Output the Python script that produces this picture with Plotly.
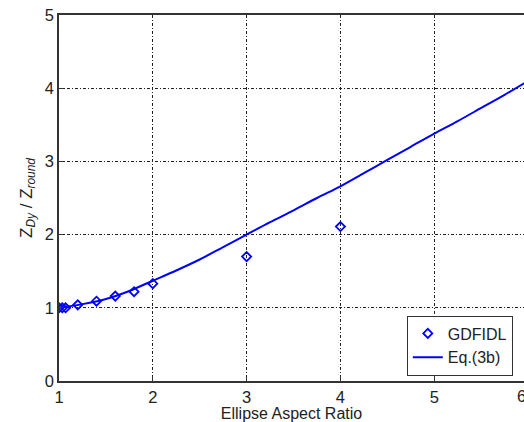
import plotly.graph_objects as go

# GDFIDL simulation results
gdfidl_ratio = [1.0, 1.035, 1.07, 1.2, 1.4, 1.6, 1.8, 2.0, 3.0, 4.0]
gdfidl_z = [1.0, 1.0, 1.0, 1.04, 1.09, 1.16, 1.22, 1.33, 1.70, 2.11]

# Eq.(3b) curve
eq_ratio = [1.0, 1.25, 1.5, 1.75, 2.0, 2.25, 2.5, 2.75, 3.0, 3.25, 3.5, 3.75,
            4.0, 4.25, 4.5, 4.75, 5.0, 5.25, 5.5, 5.75, 6.0]
eq_z = [1.0, 1.05, 1.12, 1.23, 1.37, 1.51, 1.66, 1.83, 2.0, 2.17, 2.33, 2.5,
        2.66, 2.84, 3.02, 3.2, 3.38, 3.55, 3.73, 3.91, 4.1]

x_ticks = [1, 2, 3, 4, 5, 6]
y_ticks = [0, 1, 2, 3, 4, 5]

x_min, x_max = 1.0, 5.957
font = "Liberation Sans, Arial, sans-serif"
blue = "rgb(0,0,255)"

fig = go.Figure()
fig.add_trace(go.Scatter(
    x=gdfidl_ratio, y=gdfidl_z, mode="markers", name="GDFIDL",
    marker=dict(symbol="diamond-open", size=7, color=blue, line=dict(width=1.8, color=blue)),
))
fig.add_trace(go.Scatter(
    x=eq_ratio, y=eq_z, mode="lines", name="Eq.(3b)",
    line=dict(color=blue, width=2, shape="spline", smoothing=0.8),
))

axis_common = dict(
    showgrid=True, gridcolor="#222", griddash="3px,2px,1px,2px", gridwidth=1,
    showline=True, linecolor="#333", linewidth=1.5,
    ticks="inside", ticklen=5, tickcolor="#333", zeroline=False,
    tickfont=dict(family=font, size=16.5, color="#222"),
)

fig.update_layout(
    width=524, height=422,
    margin=dict(l=59, r=0, t=15, b=41),
    paper_bgcolor="white", plot_bgcolor="white",
    font=dict(family=font, color="#222"),
    showlegend=True,
    legend=dict(
        x=0.748, y=0.015, xanchor="left", yanchor="bottom",
        bgcolor="white", bordercolor="#333", borderwidth=1,
        font=dict(family=font, size=16, color="#222"),
        tracegroupgap=0, itemwidth=30,
    ),
    xaxis=dict(
        range=[x_min, x_max], tickvals=x_ticks, mirror=True,
        title=dict(text="Ellipse Aspect Ratio", font=dict(family=font, size=16, color="#222"), standoff=2),
        **axis_common,
    ),
    yaxis=dict(
        range=[0, 5], tickvals=y_ticks, mirror=False,
        title=dict(text="Z<sub><i>Dy</i></sub> / Z<sub><i>round</i></sub>",
                   font=dict(family=font, size=17, color="#222"), standoff=8),
        **axis_common,
    ),
)

# tick label at the edge of the axis range, partly outside the window
fig.add_annotation(
    x=(6 - x_min) / (x_max - x_min), y=0, xref="paper", yref="paper",
    text="6", showarrow=False, yanchor="top", yshift=-4,
    font=dict(family=font, size=16.5, color="#222"),
)

fig.write_html("out.html")
